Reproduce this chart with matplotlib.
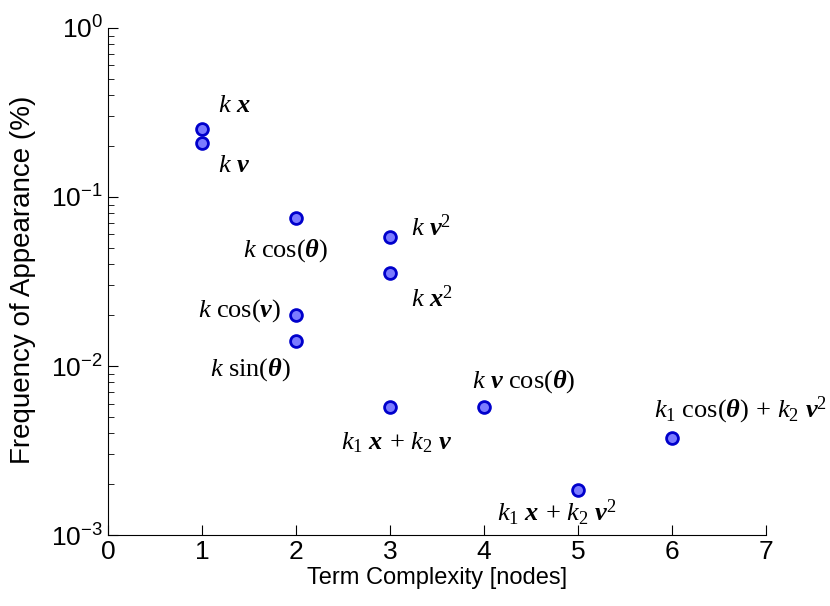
# Frequency of appearance of terms vs term complexity

import numpy as np
import matplotlib
matplotlib.use("Agg")
import matplotlib.pyplot as plt
from matplotlib.ticker import LogLocator

plt.rcParams['font.family'] = ['Liberation Sans', 'DejaVu Sans']
plt.rcParams['axes.unicode_minus'] = False
plt.rcParams['mathtext.fontset'] = 'custom'
plt.rcParams['mathtext.rm'] = 'Liberation Serif'
plt.rcParams['mathtext.it'] = 'Liberation Serif:italic'
plt.rcParams['mathtext.bf'] = 'Liberation Serif:italic:bold'

# Data
complexity = [1, 1, 2, 2, 2, 3, 3, 3, 4, 5, 6]
frequency = [0.254, 0.208, 0.0748, 0.0200, 0.0141, 0.0578, 0.0354, 0.00574,
             0.00574, 0.00186, 0.00373]
terms = [r'$k\ \mathbf{x}$', r'$k\ \mathbf{v}$', r'$k\ \cos(\mathbf{\theta})$',
         r'$k\ \cos(\mathbf{v})$', r'$k\ \sin(\mathbf{\theta})$',
         r'$k\ \mathbf{v}^2$', r'$k\ \mathbf{x}^2$',
         r'$k_1\ \mathbf{x}\,+\,k_2\ \mathbf{v}$',
         r'$k\ \mathbf{v}\ \cos(\mathbf{\theta})$',
         r'$k_1\ \mathbf{x}\,+\,k_2\ \mathbf{v}^2$',
         r'$k_1\ \cos(\mathbf{\theta})\,+\,k_2\ \mathbf{v}^2$']

# label placement: offset in pixels and alignment
offsets = [(16, 24, 'left'), (16, -22, 'left'), (-10, -32, 'center'),
           (-15, 5, 'right'), (-5, -29, 'right'), (21, 10, 'left'),
           (21, -25, 'left'), (7, -36, 'center'), (-12, 25, 'left'),
           (-81, -23, 'left'), (-18, 28, 'left')]

fig = plt.figure(figsize=(8.3, 6.06), dpi=100)
ax = fig.add_axes([0.130, 0.117, 0.793, 0.837])

ax.semilogy(complexity, frequency, 'o', markersize=8.5,
            markerfacecolor='#7b7bff', markeredgecolor='#0000cc',
            markeredgewidth=2, linestyle='none')

for x, y, t, (dx, dy, ha) in zip(complexity, frequency, terms, offsets):
    ax.annotate(t, (x, y), xytext=(dx, dy), textcoords='offset pixels',
                ha=ha, va='center', fontsize=19)

ax.set_xlim(0, 7)
ax.set_ylim(1e-3, 1)
ax.set_xticks(range(8))
ax.yaxis.set_major_locator(LogLocator(base=10, numticks=10))
ax.yaxis.set_minor_locator(LogLocator(base=10, subs=np.arange(2, 10), numticks=20))

ax.spines['top'].set_visible(False)
ax.spines['right'].set_visible(False)
ax.tick_params(which='both', direction='in', labelsize=19)
ax.tick_params(which='major', length=7)
ax.tick_params(which='minor', length=4)
ax.tick_params(axis='x', which='minor', bottom=False)

ax.set_xlabel('Term Complexity [nodes]', fontsize=17, labelpad=2)
ax.set_ylabel('Frequency of Appearance (%)', fontsize=20)
ax.yaxis.set_label_coords((36 - 108) / 658, (535 - 280) / 507)

fig.savefig('out.png', dpi=100)
